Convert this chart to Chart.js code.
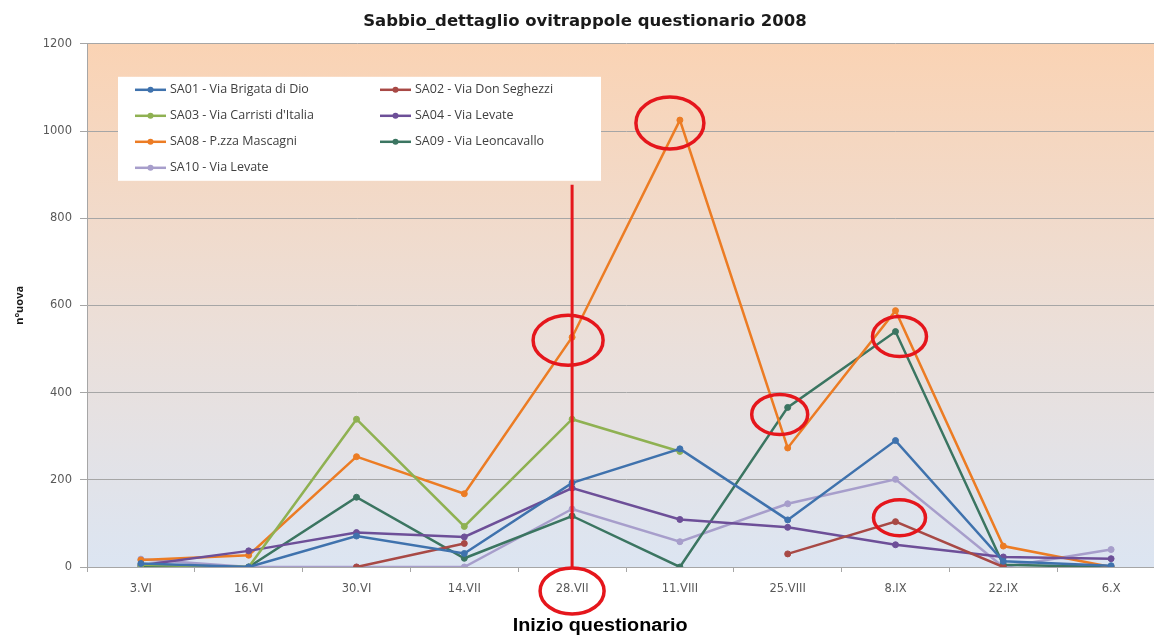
<!DOCTYPE html>
<html>
<head>
<meta charset="utf-8">
<title>Sabbio_dettaglio ovitrappole questionario 2008</title>
<script src="https://cdn.jsdelivr.net/npm/chart.js@4/dist/chart.umd.min.js"></script>
<style>
    html, body { margin: 0; padding: 0; background: #fff; overflow: hidden; }
</style>
</head>
<body>
<canvas id="ovitrap" width="1170" height="635"></canvas>
<script>
// date di raccolta (sessioni di lettura delle ovitrappole)
var dates = ['3.VI', '16.VI', '30.VI', '14.VII', '28.VII', '11.VIII', '25.VIII', '8.IX', '22.IX', '6.X'];

// n° uova per ovitrappola (null = nessun dato)
var sa01 = [8, 0, 71, 31, 193, 271, 108, 290, 13, 3];
var sa02 = [null, null, 0, 54, null, null, 30, 104, 0, null];
var sa03 = [5, 0, 339, 93, 339, 265, null, null, null, null];
var sa04 = [4, 37, 79, 69, 181, 109, 91, 51, 23, 19];
var sa08 = [16, 27, 253, 168, 527, 1025, 273, 588, 48, 0];
var sa09 = [0, 0, 160, 20, 117, 0, 366, 540, 5, 0];
var sa10 = [18, 0, 0, 0, 133, 58, 145, 201, 0, 40];

var yTicks = [0, 200, 400, 600, 800, 1000, 1200];
var startDate = '28.VII';

function serie(label, data, color) {
    return {
        label: label,
        data: data,
        borderColor: color,
        backgroundColor: color,
        pointBackgroundColor: color,
        pointBorderColor: color,
        borderWidth: 2.5,
        pointRadius: 3,
        pointBorderWidth: 1,
        tension: 0,
        spanGaps: false
    };
}

var datasets = [
    serie('SA01 - Via Brigata di Dio', sa01, '#3f72ad'),
    serie('SA02 - Via Don Seghezzi', sa02, '#a84945'),
    serie('SA03 - Via Carristi d\'Italia', sa03, '#8fb152'),
    serie('SA04 - Via Levate', sa04, '#6d4f98'),
    serie('SA08 - P.zza Mascagni', sa08, '#ec7c24'),
    serie('SA09 - Via Leoncavallo', sa09, '#3b7561'),
    serie('SA10 - Via Levate', sa10, '#a79ecb')
];

// sfondo sfumato dell'area del grafico
var plotBackground = {
    id: 'plotBackground',
    beforeDraw: function(chart) {
        var a = chart.chartArea;
        var ctx = chart.ctx;
        var g = ctx.createLinearGradient(0, a.top, 0, a.bottom);
        g.addColorStop(0, '#fad3b4');
        g.addColorStop(0.55, '#ebdfd9');
        g.addColorStop(1, '#dce5f2');
        ctx.save();
        ctx.fillStyle = g;
        ctx.fillRect(a.left, a.top, a.right - a.left, a.bottom - a.top);
        ctx.restore();
    }
};

// legenda in riquadro bianco, due colonne
var legendBox = {
    id: 'legendBox',
    afterDatasetsDraw: function(chart) {
        var a = chart.chartArea;
        var ctx = chart.ctx;
        var bx = a.left + 31, by = a.top + 33, bw = 483, bh = 104;
        ctx.save();
        ctx.fillStyle = '#ffffff';
        ctx.fillRect(bx, by, bw, bh);
        ctx.font = '12.5px "Open Sans"';
        ctx.textBaseline = 'middle';
        ctx.textAlign = 'left';
        chart.data.datasets.forEach(function(ds, i) {
            var col = i % 2, row = Math.floor(i / 2);
            var x = bx + 17 + col * 245;
            var y = by + 13 + row * 26;
            ctx.strokeStyle = ds.borderColor;
            ctx.lineWidth = 2.5;
            ctx.beginPath();
            ctx.moveTo(x, y);
            ctx.lineTo(x + 31, y);
            ctx.stroke();
            ctx.fillStyle = ds.borderColor;
            ctx.beginPath();
            ctx.arc(x + 15.5, y, 3, 0, Math.PI * 2);
            ctx.fill();
            ctx.fillStyle = '#404040';
            ctx.fillText(ds.label, x + 35, y);
        });
        ctx.restore();
    }
};

// segni rossi: inizio del questionario e picchi cerchiati
var questionario = {
    id: 'questionario',
    afterDraw: function(chart) {
        var xs = chart.scales.x, ys = chart.scales.y;
        var a = chart.chartArea;
        var ctx = chart.ctx;
        var xi = dates.indexOf(startDate);
        var lx = xs.getPixelForValue(xi);

        var circled = [
            { data: sa08, date: '11.VIII', dx: -10, dy: 3, rx: 34, ry: 26 },
            { data: sa08, date: '28.VII', dx: -4, dy: 3, rx: 35, ry: 25 },
            { data: sa09, date: '25.VIII', dx: -8, dy: 7, rx: 28, ry: 20 },
            { data: sa09, date: '8.IX', dx: 4, dy: 5, rx: 27, ry: 20 },
            { data: sa02, date: '8.IX', dx: 4, dy: -4, rx: 26, ry: 18 }
        ];

        ctx.save();
        ctx.strokeStyle = '#e5161c';
        ctx.lineWidth = 3;
        ctx.beginPath();
        ctx.moveTo(lx, a.top + 141);
        ctx.lineTo(lx, a.bottom + 1);
        ctx.stroke();

        ctx.lineWidth = 3.5;
        circled.forEach(function(c) {
            var i = dates.indexOf(c.date);
            var px = xs.getPixelForValue(i) + c.dx;
            var py = ys.getPixelForValue(c.data[i]) + c.dy;
            ctx.beginPath();
            ctx.ellipse(px, py, c.rx, c.ry, 0, 0, Math.PI * 2);
            ctx.stroke();
        });

        // cerchio sull'etichetta della data di inizio
        ctx.beginPath();
        ctx.ellipse(lx, a.bottom + 24, 32, 23, 0, 0, Math.PI * 2);
        ctx.stroke();

        ctx.fillStyle = '#000000';
        ctx.font = 'bold 18px "Liberation Sans"';
        ctx.textAlign = 'center';
        ctx.textBaseline = 'alphabetic';
        ctx.translate(lx + 28, a.bottom + 64);
        ctx.scale(1.1, 1);
        ctx.fillText('Inizio questionario', 0, 0);
        ctx.restore();
    }
};

var ctx = document.getElementById('ovitrap').getContext('2d');
var chart = new Chart(ctx, {
    type: 'line',
    data: { labels: dates, datasets: datasets },
    options: {
        responsive: false,
        animation: false,
        layout: { padding: 0 },
        plugins: {
            legend: { display: false },
            tooltip: { enabled: false },
            title: {
                display: true,
                text: 'Sabbio_dettaglio ovitrappole questionario 2008',
                color: '#1a1a1a',
                font: { family: 'DejaVu Sans', size: 16.5, weight: 'bold' },
                padding: { top: 12, bottom: 12 }
            }
        },
        scales: {
            x: {
                offset: true,
                grid: {
                    offset: true,
                    drawOnChartArea: false,
                    drawTicks: true,
                    tickLength: 5,
                    color: '#a6a6a6'
                },
                border: { color: '#a6a6a6' },
                ticks: {
                    color: '#595959',
                    font: { family: 'DejaVu Sans', size: 11.5 },
                    padding: 10,
                    maxRotation: 0,
                    autoSkip: false
                },
                afterFit: function(scale) { scale.height = 68; }
            },
            y: {
                min: 0,
                max: 1200,
                afterBuildTicks: function(scale) {
                    scale.ticks = yTicks.map(function(v) { return { value: v }; });
                },
                grid: {
                    color: '#a6a6a6',
                    tickLength: 7,
                    drawTicks: true
                },
                border: { color: '#a6a6a6' },
                ticks: {
                    color: '#595959',
                    font: { family: 'DejaVu Sans', size: 11.5 },
                    padding: 8,
                    callback: function(v) { return String(v); }
                },
                title: {
                    display: true,
                    text: 'n°uova',
                    color: '#1a1a1a',
                    font: { family: 'Open Sans', size: 11, weight: 'bold' },
                    padding: { top: 13, bottom: 0 }
                },
                afterFit: function(scale) { scale.width = 87; }
            }
        }
    },
    plugins: [plotBackground, legendBox, questionario]
});
</script>
</body>
</html>
